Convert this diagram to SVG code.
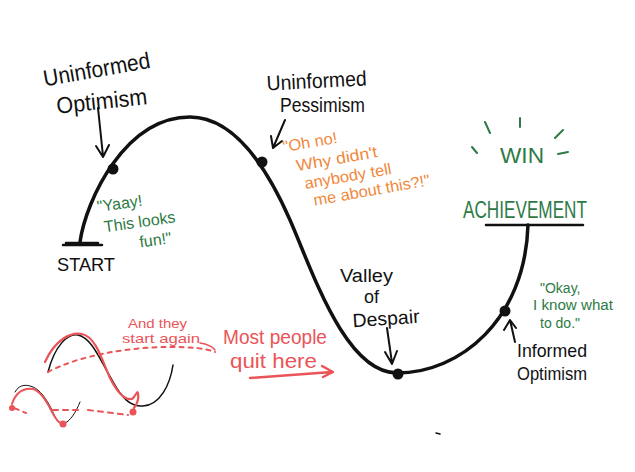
<svg xmlns="http://www.w3.org/2000/svg" width="635" height="472" viewBox="0 0 635 472">
<style>
.k{font-family:"Liberation Sans",Arial,sans-serif;fill:#111}
.g{font-family:"Liberation Sans",Arial,sans-serif;fill:#2e7a46}
.o{font-family:"Liberation Sans",Arial,sans-serif;fill:#f0883c}
.r{font-family:"Liberation Sans",Arial,sans-serif;fill:#ea5458}
.ln{fill:none;stroke:#111;stroke-linecap:round;stroke-linejoin:round}
.rl{fill:none;stroke:#ea5458;stroke-linecap:round;stroke-linejoin:round}
.gl{fill:none;stroke:#2e7a46;stroke-width:2;stroke-linecap:round}
</style>
<rect width="635" height="472" fill="#fff"/>
<g id="connectors">
<path class="ln" stroke-width="3.5" d="M80,242 C86,200 125,117 190,117 C235,117 268,170 290,220 C312,270 345,373 397,373 C460,373 525,320 528,225"/>
<path class="ln" stroke-width="2.5" d="M63,245 L102,245 M66,243 L98,243"/>
<path class="ln" stroke-width="2.5" d="M486,225 L583,225"/>
<path class="ln" stroke-width="2" d="M98,108 L103,156 M96,146 L103,157 L109,145"/>
<path class="ln" stroke-width="2" d="M285,120 L273,148 M271,136 L273,148 L282,141"/>
<path class="ln" stroke-width="2" d="M387,328 L392,363 M385,352 L392,364 L397,351"/>
<path class="ln" stroke-width="2" d="M515,342 L510,320 M504,330 L510,320 L516,328"/>
<path class="rl" stroke-width="2.5" d="M250,378 L332,372 M322,366 L333,372 L323,377"/>
<path class="gl" d="M485,122 L490,133 M520,118 L520,127 M555,138 L563,130 M472,147 L477,153 M558,154 L568,152"/>
<path class="ln" stroke-width="1.5" d="M436,433 L440,434"/>
</g>
<g id="sketches">
<path class="ln" stroke-width="1.5" d="M48,372 C55,345 68,333 78,335 C92,338 100,360 112,380 C122,398 130,407 143,406 C160,405 170,385 173,365"/>
<path class="rl" stroke-width="2.2" d="M45,362 C55,340 70,332 82,334 C96,337 102,360 110,378 C118,394 126,400 132,399 C136,396 137,390 138,393 C139,398 137,404 134,408"/>
<path class="rl" stroke-width="2" stroke-dasharray="4,5" d="M48,372 C80,355 130,347 170,347 C190,347 205,348 215,352"/>
<path class="rl" stroke-width="1.5" d="M200,343 C207,344 212,346 215,350"/>
<circle cx="133" cy="412" r="3.5" fill="#ea5458"/>
<path class="ln" stroke-width="1" d="M15,392 C20,383 28,385 33,387 C40,390 46,398 52,410 C56,420 60,425 63,424 C70,422 76,412 80,402"/>
<path class="rl" stroke-width="2" d="M12,404 C16,392 24,388 33,389 C40,391 46,400 51,410 C55,418 59,424 62,423"/>
<path class="rl" stroke-width="2" stroke-dasharray="5,5" d="M14,408 L26,413 M53,410 L80,410 M88,410 L128,415"/>
<circle cx="12" cy="408" r="3" fill="#ea5458"/>
<circle cx="63" cy="424" r="3.5" fill="#ea5458"/>
</g>
<g id="dot-uninformed-optimism"><circle cx="113" cy="169" r="5.5" fill="#111"/>
<text class="k" font-size="23" x="44" y="77" textLength="108" lengthAdjust="spacingAndGlyphs" transform="rotate(-10 98 77)">Uninformed</text>
<text class="k" font-size="23" x="57" y="109" textLength="91" lengthAdjust="spacingAndGlyphs" transform="rotate(-6 102 109)">Optimism</text>
<text class="g" font-size="16" transform="rotate(-8 135 225)"><tspan x="100" y="207">"Yaay!</tspan><tspan x="104" y="228">This looks</tspan><tspan x="137" y="248">fun!"</tspan></text>
</g>
<g id="dot-uninformed-pessimism"><circle cx="262" cy="162" r="5.5" fill="#111"/>
<text class="k" font-size="21" x="267" y="88" textLength="100" lengthAdjust="spacingAndGlyphs" transform="rotate(-3 317 88)">Uninformed</text>
<text class="k" font-size="21" x="280" y="112" textLength="85" lengthAdjust="spacingAndGlyphs">Pessimism</text>
<g transform="rotate(-10 350 165)">
<text class="o" font-size="16" x="287" y="141" textLength="55" lengthAdjust="spacingAndGlyphs">"Oh no!</text>
<text class="o" font-size="16" x="297" y="162" textLength="82" lengthAdjust="spacingAndGlyphs">Why didn't</text>
<text class="o" font-size="16" x="302" y="181" textLength="88" lengthAdjust="spacingAndGlyphs">anybody tell</text>
<text class="o" font-size="16" x="308" y="199" textLength="118" lengthAdjust="spacingAndGlyphs">me about this?!"</text>
</g>
</g>
<g id="valley">
<circle cx="398" cy="374" r="5.5" fill="#111"/>
<text class="k" font-size="18" x="340" y="282" textLength="53" lengthAdjust="spacingAndGlyphs">Valley</text>
<text class="k" font-size="18" x="364" y="303">of</text>
<text class="k" font-size="19" x="353" y="325" textLength="67" lengthAdjust="spacingAndGlyphs" transform="rotate(-4 386 325)">Despair</text>
</g>
<g id="informed-optimism">
<circle cx="505" cy="311" r="5.5" fill="#111"/>
<text class="k" font-size="19" x="517" y="357" textLength="70" lengthAdjust="spacingAndGlyphs">Informed</text>
<text class="k" font-size="19" x="517" y="380" textLength="70" lengthAdjust="spacingAndGlyphs">Optimism</text>
<text class="g" font-size="14"><tspan x="540" y="293">"Okay,</tspan><tspan x="533" y="310" textLength="80" lengthAdjust="spacingAndGlyphs">I know what</tspan><tspan x="540" y="328">to do."</tspan></text>
</g>
<g id="achievement">
<text class="g" font-size="24" x="463" y="218" textLength="124" lengthAdjust="spacingAndGlyphs">ACHIEVEMENT</text>
<text class="g" font-size="22" x="500" y="163" textLength="44" lengthAdjust="spacingAndGlyphs">WIN</text>
</g>
<g id="start">
<text class="k" font-size="19" x="57" y="271" textLength="58" lengthAdjust="spacingAndGlyphs">START</text>
</g>
<g id="quit">
<text class="r" font-size="20" x="223" y="344" textLength="104" lengthAdjust="spacingAndGlyphs">Most people</text>
<text class="r" font-size="20" x="230" y="368" textLength="87" lengthAdjust="spacingAndGlyphs">quit here</text>
<text class="r" font-size="13" x="128" y="328" textLength="59" lengthAdjust="spacingAndGlyphs">And they</text>
<text class="r" font-size="13" x="122" y="343" textLength="78" lengthAdjust="spacingAndGlyphs">start again</text>
</g>
</svg>
